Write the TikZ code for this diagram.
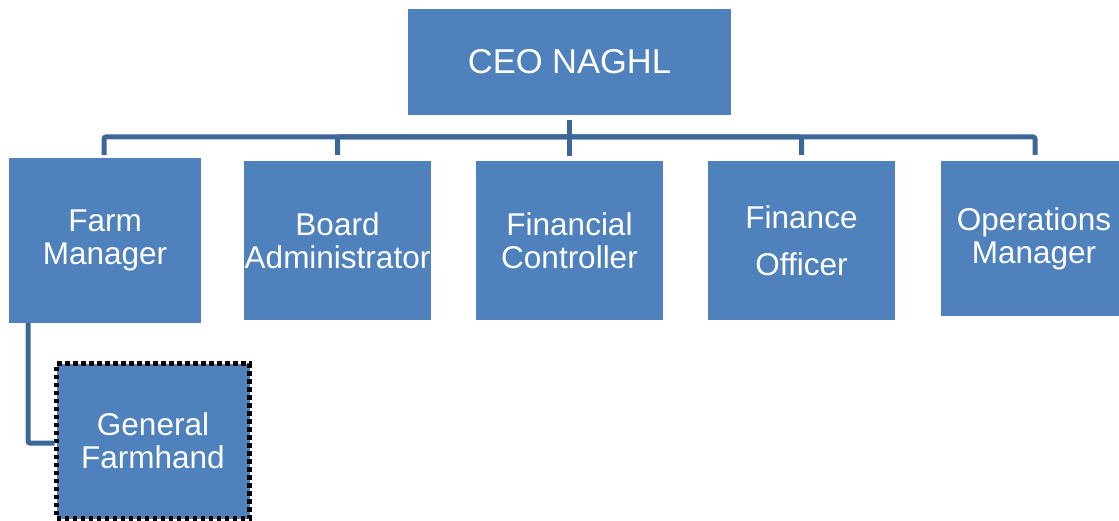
\documentclass[tikz,border=0pt]{standalone}
\usepackage{fontspec}
\setmainfont{Liberation Sans}
\usetikzlibrary{calc}
\definecolor{boxblue}{RGB}{79,129,189}
\definecolor{lineblue}{RGB}{61,103,153}
\tikzset{
  unit/.style={fill=boxblue, text=white, inner sep=0pt, outer sep=0pt, align=center,
    font=\fontsize{31.5}{33}\selectfont},
  child/.style={unit, minimum width=187pt, minimum height=159pt},
  conn/.style={draw=lineblue, line width=5pt, rounded corners=2pt},
  dotbox/.style={draw=black, line width=4.5pt, dash pattern=on 4.5pt off 3.5pt}
}
\begin{document}
\begin{tikzpicture}[x=1pt,y=-1pt]
\useasboundingbox (0,0) rectangle (1119,521);
\node[unit, minimum width=323pt, minimum height=106pt, font=\fontsize{34.5}{38}\selectfont] (ceo) at (569.5,62) {CEO NAGHL};
\node[child, minimum width=192pt, minimum height=165pt] (fm) at (105,240.5) {Farm\\Manager};
\node[child] (ba) at (337.5,240.5) {Board\\Administrator};
\node[child] (fc) at (569.5,240.5) {Financial\\Controller};
\node[child, font=\fontsize{31.5}{47}\selectfont] (fo) at (801.5,240.5) {Finance\\Officer};
\node[child, minimum width=178pt, minimum height=155pt] (om) at (1030,238.5) {\hspace*{8pt}Operations\\\hspace*{8pt}Manager};
\node[unit, dotbox, minimum width=193pt, minimum height=155pt] (gf) at (153,441) {General\\Farmhand};
\coordinate (bus) at (569.5,137);
\draw[conn, shorten <=5pt] (ceo.south) -- (bus);
\draw[conn, shorten >=5pt] (bus) -- (fc.north);
\draw[conn, shorten >=3pt] (bus) -| ($(fm.north)+(-1,0)$);
\draw[conn, shorten >=6pt] (bus) -| (ba.north);
\draw[conn, shorten >=6pt] (bus) -| (fo.north);
\draw[conn, shorten >=6pt] (bus) -| ($(om.north)+(5,0)$);
\draw[conn] ($(fm.south west)+(19,0)$) |- ($(gf.west)+(-2,2)$);
\end{tikzpicture}
\end{document}
